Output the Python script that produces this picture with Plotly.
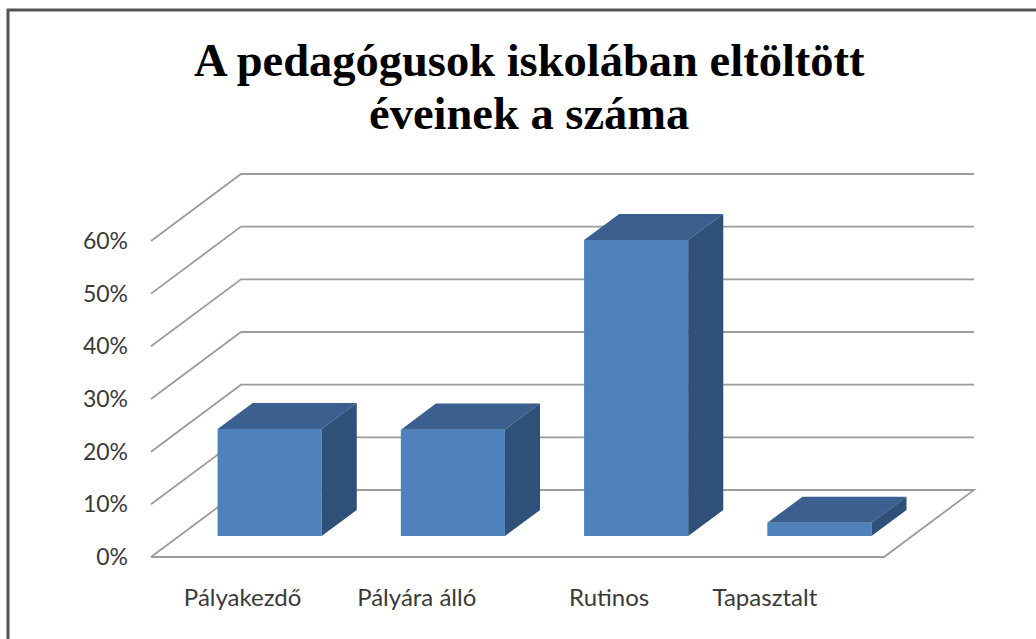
import plotly.graph_objects as go

# ---- data ----
title_lines = ["A pedagógusok iskolában eltöltött", "éveinek a száma"]
categories = ["Pályakezdő", "Pályára álló", "Rutinos", "Tapasztalt"]
values = [20.3, 20.2, 56.2, 2.5]
y_ticks = [0, 10, 20, 30, 40, 50, 60]
y_tick_labels = ["0%", "10%", "20%", "30%", "40%", "50%", "60%"]

# ---- layout of the pseudo-3D projection (pixels of the page) ----
W, H = 1036, 639
LEFT, FLOOR = 151, 557       # front-left corner of the floor
BAND = 183.25                # pixel width of one category band
PX_PER_PCT = 5.267           # pixels per percent
DEPTH_DX, DEPTH_DY = 90, 67  # full depth of the chart box, pixels
BAR_WIDTH = 0.568            # in bands
BAR_D0, BAR_D1 = 0.30, 0.69  # bar front and back, as a share of the depth
BASE_D = 0.313               # floor height of the bar foot, as a share of the depth
LABEL_TICKS = [0.5, 1.45, 2.5, 3.35]

FRONT, TOP, SIDE = "#4f81bd", "#3b608f", "#2f5078"
GRID = "#9c9c9c"

def pu(x_band, depth):
    """horizontal data coordinate: category band units, sheared by depth"""
    return x_band + depth * DEPTH_DX / BAND

def pv(value, depth):
    """vertical data coordinate: percent, sheared by depth"""
    return value + depth * DEPTH_DY / PX_PER_PCT

x_range = [-LEFT / BAND, (W - LEFT) / BAND]
y_range = [-(H - FLOOR) / PX_PER_PCT, FLOOR / PX_PER_PCT]

fig = go.Figure()

# front faces as real bars
centres = [pu(i + 0.5, BAR_D0) for i in range(len(values))]
fig.add_trace(go.Bar(
    x=centres, y=values, base=[pv(0, BASE_D)] * len(values), width=BAR_WIDTH,
    marker=dict(color=FRONT, line=dict(width=0)), showlegend=False, hoverinfo="skip",
))

# top and side faces derived from the same values
for c, v in zip(centres, values):
    l, r = c - BAR_WIDTH / 2, c + BAR_WIDTH / 2
    shift = pu(0, BAR_D1 - BAR_D0)
    rise = pv(0, BAR_D1 - BAR_D0)
    base = pv(0, BASE_D)
    top = base + v
    fig.add_trace(go.Scatter(
        x=[l, r, r + shift, l + shift, l], y=[top, top, top + rise, top + rise, top],
        fill="toself", fillcolor=TOP, mode="lines", line=dict(width=0),
        showlegend=False, hoverinfo="skip"))
    fig.add_trace(go.Scatter(
        x=[r, r + shift, r + shift, r, r], y=[base, base + rise, top + rise, top, base],
        fill="toself", fillcolor=SIDE, mode="lines", line=dict(width=0),
        showlegend=False, hoverinfo="skip"))

# gridlines on the walls, under the bars
n = len(categories)
shapes = []
def line_shape(points):
    path = "M " + " L ".join(f"{a},{b}" for a, b in points)
    return dict(type="path", xref="x", yref="y", path=path, layer="below",
                line=dict(color=GRID, width=1.8))
for t in y_ticks:
    if t == 0:
        pts = [(pu(0, 0), pv(0, 0)), (pu(0, 1), pv(0, 1)), (pu(n, 1), pv(0, 1)),
               (pu(n, 0), pv(0, 0)), (pu(0, 0), pv(0, 0))]
    else:
        pts = [(pu(0, 0), pv(t, 0)), (pu(0, 1), pv(t, 1)), (pu(n, 1), pv(t, 1))]
    shapes.append(line_shape(pts))

# page frame (left and top edges only)
shapes.append(dict(type="path", xref="paper", yref="paper",
                   path=f"M {8/W},0 L {8/W},{1-10/H} L 1,{1-10/H}",
                   line=dict(color="#555555", width=3), layer="below"))

x_label_font = dict(family="Lato", size=24, color="#3a3a3a")
y_label_font = dict(family="Lato", size=23, color="#3a3a3a")
title_font = dict(family="Liberation Serif", size=46.5, color="black", weight="bold")

fig.update_layout(
    width=W, height=H, margin=dict(l=0, r=0, t=0, b=0),
    paper_bgcolor="white", plot_bgcolor="rgba(0,0,0,0)", showlegend=False,
    shapes=shapes,
    annotations=[
        dict(text=line, xref="paper", yref="paper", x=529 / W, xanchor="center",
             y=1 - yc / H, yanchor="middle", showarrow=False, font=title_font)
        for line, yc in zip(title_lines, [60, 113])
    ],
    xaxis=dict(range=x_range, domain=[0, 1], anchor="free", position=1 - 580.5 / H,
               tickmode="array", tickvals=LABEL_TICKS, ticktext=categories,
               showgrid=False, zeroline=False, showline=False, ticks="",
               tickfont=x_label_font, fixedrange=True),
    yaxis=dict(range=y_range, domain=[0, 1], anchor="free", position=128 / W,
               tickmode="array", tickvals=y_ticks, ticktext=y_tick_labels,
               showgrid=False, zeroline=False, showline=False, ticks="",
               tickfont=y_label_font, fixedrange=True),
    barmode="overlay",
)

fig.write_html("out.html", config=dict(displayModeBar=False),
               post_script="document.body.style.margin='0';")
